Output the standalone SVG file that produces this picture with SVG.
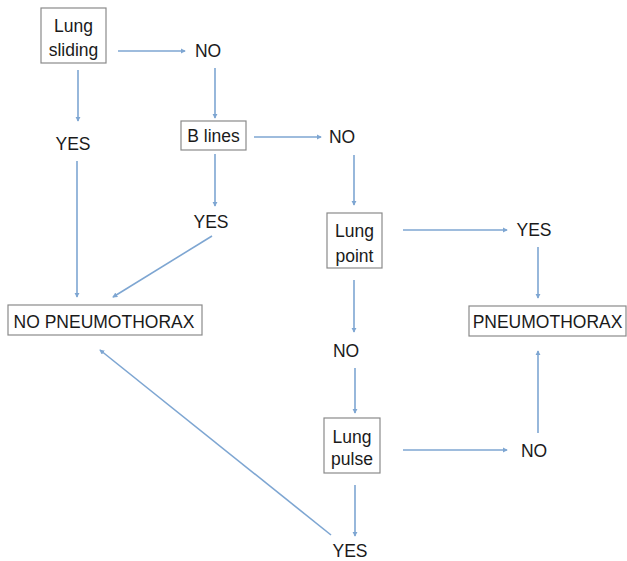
<svg xmlns="http://www.w3.org/2000/svg" width="627" height="561" viewBox="0 0 627 561">
<defs>
<style>
text{font-family:"Liberation Sans",Arial,sans-serif;font-size:17.5px;fill:#1a1a1a;text-anchor:middle}
.box{fill:#fff;stroke:#8a8a8a;stroke-width:1.2}
.c line{stroke:#7ea6d2;stroke-width:1.6;marker-end:url(#ah)}
</style>
<marker id="ah" viewBox="0 0 6 6" refX="5" refY="3" markerWidth="3.2" markerHeight="3.2" orient="auto" markerUnits="strokeWidth">
<path d="M0,0 L6,3 L0,6 Z" fill="#7ea6d2"/>
</marker>
</defs>
<rect width="627" height="561" fill="#fff"/>
<g id="lung-sliding"><rect class="box" x="41" y="8" width="65" height="55"/><text x="73.5" y="32">Lung</text><text x="73.5" y="56">sliding</text></g>
<g id="no1"><text x="208" y="57">NO</text></g>
<g id="yes1"><text x="73" y="150">YES</text></g>
<g id="b-lines"><rect class="box" x="181" y="121" width="65" height="29"/><text x="213.5" y="142">B lines</text></g>
<g id="no2"><text x="342" y="143">NO</text></g>
<g id="yes2"><text x="211" y="228">YES</text></g>
<g id="lung-point"><rect class="box" x="327" y="213" width="55" height="55"/><text x="354.5" y="237">Lung</text><text x="354.5" y="262">point</text></g>
<g id="yes3"><text x="534" y="236">YES</text></g>
<g id="no-pneumothorax"><rect class="box" x="8" y="305" width="194" height="30"/><text x="104" y="328">NO PNEUMOTHORAX</text></g>
<g id="pneumothorax"><rect class="box" x="469" y="306" width="157" height="30"/><text x="547.5" y="328">PNEUMOTHORAX</text></g>
<g id="no3"><text x="346" y="357">NO</text></g>
<g id="lung-pulse"><rect class="box" x="324" y="418" width="56" height="55"/><text x="352" y="443">Lung</text><text x="352" y="465">pulse</text></g>
<g id="no4"><text x="534" y="457">NO</text></g>
<g id="yes4"><text x="350" y="557">YES</text></g>
<g class="c" id="connectors">
<line x1="118" y1="51" x2="185" y2="51"/>
<line x1="78" y1="70" x2="78" y2="121"/>
<line x1="77" y1="161" x2="77" y2="297"/>
<line x1="215" y1="68" x2="215" y2="118"/>
<line x1="254" y1="137" x2="321" y2="137"/>
<line x1="215" y1="154" x2="215" y2="206"/>
<line x1="212" y1="236" x2="113" y2="297"/>
<line x1="354" y1="155" x2="354" y2="205"/>
<line x1="403" y1="230" x2="507" y2="230"/>
<line x1="538" y1="247" x2="538" y2="298"/>
<line x1="354" y1="280" x2="354" y2="332"/>
<line x1="355" y1="368" x2="355" y2="413"/>
<line x1="403" y1="450" x2="507" y2="450"/>
<line x1="538" y1="433" x2="538" y2="351"/>
<line x1="355" y1="485" x2="355" y2="536"/>
<line x1="331" y1="535" x2="100" y2="350"/>
</g>
</svg>
